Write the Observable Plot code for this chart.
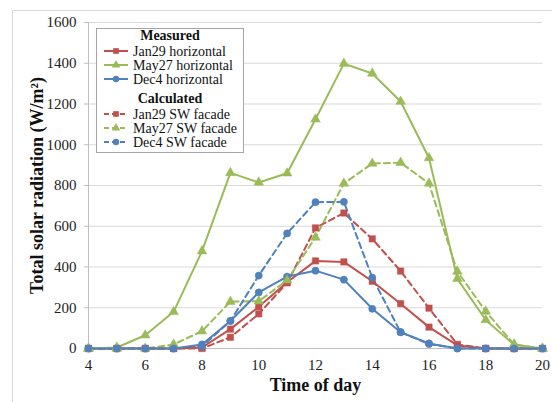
<!DOCTYPE html>
<html>
<head>
<meta charset="utf-8">
<script src="https://cdn.jsdelivr.net/npm/d3@7"></script>
<script src="https://cdn.jsdelivr.net/npm/@observablehq/plot@0.6"></script>
<style>
  html, body { margin: 0; padding: 0; background: white; }
  #wrap { position: relative; width: 552px; height: 402px; overflow: hidden; font-family: "Liberation Serif", "DejaVu Serif", serif; }
  #frame { position: absolute; left: 12px; top: 10px; width: 600px; height: 450px; border: 1px solid #d9d9d9; box-sizing: border-box; }
  #chart { position: absolute; left: 0; top: 0; }
  #legend { position: absolute; left: 96px; top: 28px; width: 148px; height: 125px; border: 1px solid #a6a6a6; background: white; box-sizing: border-box; }
  .lrow { position: absolute; left: 0; height: 13px; line-height: 13px; font-size: 14px; font-weight: normal; font-family: "Liberation Serif", "DejaVu Serif", serif; color: #111; white-space: nowrap; }
  .lhead { position: absolute; left: 0; width: 146px; text-align: center; font-weight: bold; font-size: 14px; line-height: 14px; color: #111; }
  .lrow svg { position: absolute; left: 6px; top: -1px; }
  .lrow span { position: absolute; left: 36px; top: 0; }
  #chart text { font-family: "Liberation Serif", "DejaVu Serif", serif; }
</style>
</head>
<body>
<div id="wrap">
  <div id="frame"></div>
  <div id="chart"></div>
  <div id="legend"></div>
</div>
<script>
const hours = [4, 5, 6, 7, 8, 9, 10, 11, 12, 13, 14, 15, 16, 17, 18, 19, 20];
const jan29Horizontal = [0, 0, 0, 0, 5, 95, 205, 325, 430, 425, 330, 220, 105, 15, 0, 0, 0];
const may27Horizontal = [0, 5, 65, 180, 478, 862, 815, 860, 1125, 1398, 1350, 1212, 935, 342, 140, 18, 0];
const dec4Horizontal  = [0, 0, 0, 0, 20, 135, 275, 353, 382, 338, 195, 80, 25, 0, 0, 0, 0];
const jan29Facade = [0, 0, 0, 0, 0, 55, 170, 322, 592, 665, 538, 380, 198, 20, 0, 0, 0];
const may27Facade = [0, 0, 0, 20, 85, 230, 232, 335, 545, 810, 908, 912, 810, 378, 182, 20, 0];
const dec4Facade  = [0, 0, 0, 0, 10, 135, 358, 565, 718, 720, 348, 80, 22, 0, 0, 0, 0];
const yTicks = [0, 200, 400, 600, 800, 1000, 1200, 1400, 1600];
const xTicks = [4, 6, 8, 10, 12, 14, 16, 18, 20];

const seriesNames = ["Jan29 horizontal", "May27 horizontal", "Dec4 horizontal", "Jan29 SW facade", "May27 SW facade", "Dec4 SW facade"];
const seriesColors = ["#c0504d", "#9bbb59", "#4f81bd", "#c0504d", "#9bbb59", "#4f81bd"];
const seriesSymbols = ["square", "triangle", "circle", "square", "triangle", "circle"];
const seriesValues = [jan29Horizontal, may27Horizontal, dec4Horizontal, jan29Facade, may27Facade, dec4Facade];
const seriesDashed = [false, false, false, true, true, true];

const rows = [];
seriesNames.forEach((name, i) => {
  hours.forEach((h, j) => rows.push({hour: h, value: seriesValues[i][j], series: name, dashed: seriesDashed[i]}));
});
const measured = rows.filter(d => !d.dashed);
const calculated = rows.filter(d => d.dashed);

const chart = Plot.plot({
  width: 552,
  height: 402,
  marginLeft: 88,
  marginRight: 10,
  marginTop: 22,
  marginBottom: 54,
  style: {background: "transparent", fontFamily: "'Liberation Serif', 'DejaVu Serif', serif", fontSize: "15px", color: "#222"},
  x: {domain: [4, 20], ticks: xTicks},
  y: {domain: [0, 1600], ticks: yTicks},
  color: {domain: seriesNames, range: seriesColors},
  symbol: {domain: seriesNames, range: seriesSymbols},
  marks: [
    Plot.gridY(yTicks, {stroke: "#d9d9d9", strokeOpacity: 1, strokeWidth: 1}),
    Plot.ruleX([4], {stroke: "#bfbfbf"}),
    Plot.ruleY([0], {stroke: "#bfbfbf"}),
    Plot.axisY(yTicks, {tickSize: 4, tickPadding: 8, label: null, stroke: "#bfbfbf", fontSize: 15, fill: "#222", tickFormat: d => String(d)}),
    Plot.axisX(xTicks, {tickSize: 0, tickPadding: 11, label: null, fontSize: 15, fill: "#222", tickFormat: d => String(d)}),
    Plot.line(calculated, {x: "hour", y: "value", z: "series", stroke: "series", strokeWidth: 2, strokeDasharray: "6,4"}),
    Plot.line(measured, {x: "hour", y: "value", z: "series", stroke: "series", strokeWidth: 2}),
    Plot.dot(rows, {x: "hour", y: "value", symbol: "series", fill: "series", stroke: "series", strokeWidth: 0.5, r: 3.6}),
    Plot.text(["Time of day"], {frameAnchor: "bottom", dy: 37, lineAnchor: "middle", fontSize: 18, fontWeight: "bold", fill: "#111"}),
    Plot.text(["Total solar radiation (W/m²)"], {frameAnchor: "left", dx: -51, dy: 0, rotate: -90, textAnchor: "middle", lineAnchor: "middle", fontSize: 18, fontWeight: "bold", fill: "#111"})
  ]
});
document.getElementById("chart").appendChild(chart);

// Legend
const legend = document.getElementById("legend");
function head(text, cy) {
  const d = document.createElement("div");
  d.className = "lhead";
  d.style.top = (cy - 28 - 7) + "px";
  d.textContent = text;
  legend.appendChild(d);
}
function entry(i, cy) {
  const d = document.createElement("div");
  d.className = "lrow";
  d.style.top = (cy - 28 - 7) + "px";
  const ns = "http://www.w3.org/2000/svg";
  const s = document.createElementNS(ns, "svg");
  s.setAttribute("width", 26); s.setAttribute("height", 14);
  const l = document.createElementNS(ns, "line");
  l.setAttribute("x1", 1); l.setAttribute("x2", 25); l.setAttribute("y1", 7); l.setAttribute("y2", 7);
  l.setAttribute("stroke", seriesColors[i]); l.setAttribute("stroke-width", 2);
  if (seriesDashed[i]) l.setAttribute("stroke-dasharray", "5,3");
  s.appendChild(l);
  const sym = d3.symbol(seriesSymbols[i] === "square" ? d3.symbolSquare : seriesSymbols[i] === "triangle" ? d3.symbolTriangle : d3.symbolCircle, 32);
  const p = document.createElementNS(ns, "path");
  p.setAttribute("d", sym());
  p.setAttribute("transform", "translate(13,7)");
  p.setAttribute("fill", seriesColors[i]);
  s.appendChild(p);
  d.appendChild(s);
  const t = document.createElement("span");
  t.textContent = seriesNames[i];
  d.appendChild(t);
  legend.appendChild(d);
}
head("Measured", 35);
entry(0, 51); entry(1, 65); entry(2, 79);
head("Calculated", 98);
entry(3, 114); entry(4, 128); entry(5, 142);
</script>
</body>
</html>
